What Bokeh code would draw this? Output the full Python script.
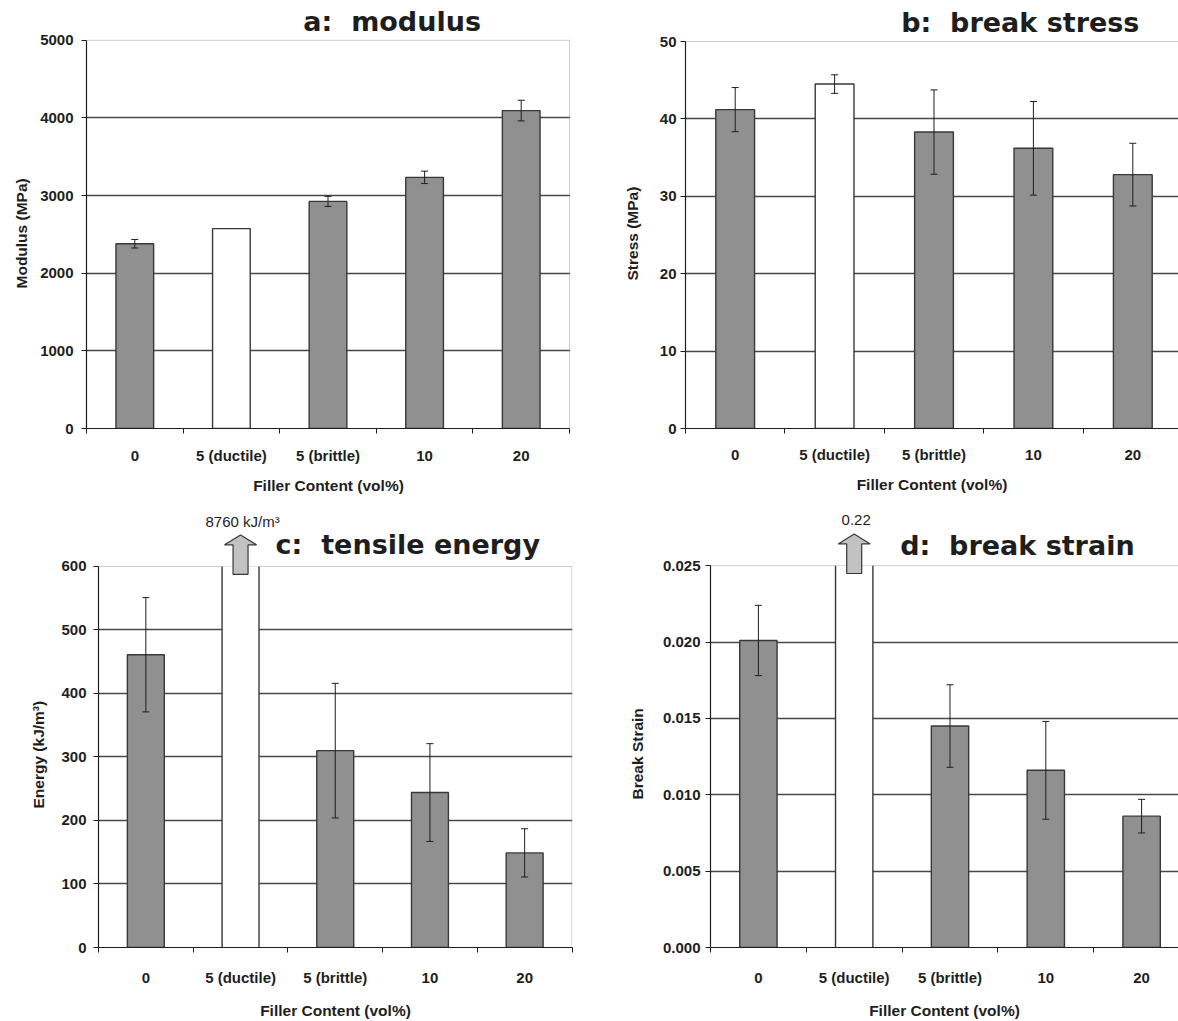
import numpy as np
from bokeh.plotting import figure
from bokeh.layouts import column, row
from bokeh.models import (Range1d, FixedTicker, NumeralTickFormatter, Whisker, TeeHead,
                          ColumnDataSource, Title)
from bokeh.core.properties import value
from bokeh.embed import file_html
from bokeh.resources import INLINE

# ---- data -------------------------------------------------------------
categories = ["0", "5 (ductile)", "5 (brittle)", "10", "20"]
open_category = "5 (ductile)"          # drawn as an unfilled bar

modulus = [2380, 2575, 2925, 3235, 4095]        # MPa
modulus_err = [55, 0, 65, 80, 133]

stress = [41.2, 44.5, 38.3, 36.2, 32.8]          # MPa
stress_err = [2.85, 1.2, 5.45, 6.05, 4.05]

energy = [461, 8760, 310, 244, 149]              # kJ/m^3
energy_err = [90, 0, 106, 77, 38]

strain = [0.0201, 0.22, 0.0145, 0.0116, 0.0086]
strain_err = [0.0023, 0, 0.0027, 0.0032, 0.0011]

x_title = "Filler Content (vol%)"

# ---- styling ----------------------------------------------------------
INK = "#1e1e1e"
GRID = "#474747"
BORDER = "#9a9a9a"
BAR_FILL = "#909090"
BAR_LINE = "#383838"
ARROW_FILL = "#c2c2c2"
SANS = "Liberation Sans"
TITLE_FONT = "DejaVu Sans"
NBSP = "\u00a0"


def panel(vals, errs, ymax, step, ylabel, title, W, H, left, right, plot_top, bottom,
          pitch, title_at, fmt=None, off_unit="", ytick_standoff=8, ylab_standoff=12,
          ylab_offset=140, xtick_standoff=16, xlab_standoff=13):
    n = len(categories)
    vals = np.asarray(vals, dtype=float)
    errs = np.asarray(errs, dtype=float)
    plot_h = bottom - plot_top
    x_end = (right - left) / pitch
    y_end = ymax * bottom / plot_h        # frame reaches up to the top of the figure
    dx = 1.0 / pitch                      # data units per pixel
    dy = ymax / plot_h

    p = figure(width=W, height=H, x_range=Range1d(0, x_end), y_range=Range1d(0, y_end),
               min_border_left=left, min_border_right=W - right, min_border_top=0,
               min_border_bottom=H - bottom, toolbar_location=None, output_backend="svg",
               outline_line_color=None, background_fill_color="white",
               border_fill_color="white")

    centers = np.arange(n) + 0.5
    edges = np.arange(n + 1)

    # y axis
    yt = [round(v, 6) for v in np.arange(0, ymax + step / 2, step)]
    ya = p.yaxis[0]
    ya.ticker = FixedTicker(ticks=yt)
    ya.bounds = (0, ymax)
    ya.major_tick_in = 0
    ya.major_tick_out = 5
    ya.major_label_standoff = ytick_standoff
    if fmt:
        ya.formatter = NumeralTickFormatter(format=fmt)

    # y-axis caption, placed along the scaled part of the axis
    p.add_layout(Title(text=ylabel, align="left", offset=ylab_offset,
                       standoff=ylab_standoff, text_font=SANS, text_font_style="bold",
                       text_font_size="15.5px", text_color=INK), "left")

    # x axis: labels under each category, tick marks between them
    xa = p.xaxis[0]
    xa.ticker = FixedTicker(ticks=list(centers), minor_ticks=list(edges))
    xa.major_label_overrides = {float(c): cat for c, cat in zip(centers, categories)}
    xa.major_tick_in = 0
    xa.major_tick_out = 0
    xa.minor_tick_in = 0
    xa.minor_tick_out = 5
    xa.bounds = (0, n)
    xa.axis_label = x_title
    xa.major_label_standoff = xtick_standoff
    xa.axis_label_standoff = xlab_standoff

    for ax in (xa, ya):
        ax.axis_line_color = INK
        ax.axis_line_width = 1.2
        ax.major_tick_line_color = INK if ax is ya else None
        ax.minor_tick_line_color = INK if ax is xa else None
        ax.major_label_text_font = SANS
        ax.major_label_text_font_style = "bold"
        ax.major_label_text_font_size = "15px"
        ax.major_label_text_color = INK
        ax.axis_label_text_font = SANS
        ax.axis_label_text_font_style = "bold"
        ax.axis_label_text_font_size = "15.5px"
        ax.axis_label_text_color = INK

    p.xgrid.visible = False
    p.ygrid.ticker = FixedTicker(ticks=yt[1:-1])
    p.ygrid.grid_line_color = GRID
    p.ygrid.grid_line_width = 1.4

    # dotted plot-area border (top and right)
    p.segment(x0=[0, n], y0=[ymax, 0], x1=[n, n], y1=[ymax, ymax],
              line_color=BORDER, line_width=1, line_dash="1 1")

    # bars
    is_open = np.array([c == open_category for c in categories])
    off = vals > ymax
    fills = np.where(is_open, "white", BAR_FILL)
    inside = ~off
    p.vbar(x=centers[inside], top=vals[inside], width=0.39, bottom=0,
           fill_color=list(fills[inside]), line_color=BAR_LINE, line_width=1.4)

    if off.any():
        # bars running past the top of the scale: fill up to the edge, sides only
        xs = centers[off]
        p.vbar(x=xs, top=np.minimum(vals[off], ymax), width=0.39, bottom=0,
               fill_color=list(fills[off]), line_color=None)
        p.segment(x0=np.concatenate([xs - 0.195, xs + 0.195]), y0=0,
                  x1=np.concatenate([xs - 0.195, xs + 0.195]), y1=ymax,
                  line_color=BAR_LINE, line_width=1.4)
        for cx, v in zip(xs, vals[off]):
            hw, sw = 16 * dx, 7.5 * dx
            base = ymax + 22 * dy
            tip = ymax + 32 * dy
            low = ymax - 8 * dy
            p.patch(x=[cx - sw, cx - sw, cx - hw, cx, cx + hw, cx + sw, cx + sw],
                    y=[low, base, base, tip, base, base, low],
                    fill_color=ARROW_FILL, line_color=BAR_LINE, line_width=1.2)
            p.text(x=[cx + 2 * dx], y=[ymax + 46 * dy], text=[f"{v:g}{off_unit}"],
                   text_font=value(SANS), text_font_size="15px", text_color=INK,
                   text_align="center", text_baseline="alphabetic")

    # error bars
    has = errs > 0
    wsrc = ColumnDataSource(dict(x=centers[has], lo=(vals - errs)[has], hi=(vals + errs)[has]))
    w = Whisker(source=wsrc, base="x", lower="lo", upper="hi", dimension="height",
                line_color=INK, line_width=1, level="overlay",
                upper_head=TeeHead(size=7, line_color=INK, line_width=1),
                lower_head=TeeHead(size=7, line_color=INK, line_width=1))
    p.add_layout(w)

    # panel heading
    tx, ty_px = title_at
    p.text(x=[tx], y=[ymax + ty_px * dy], text=[title.replace("  ", " " + NBSP)],
           text_font=value(TITLE_FONT), text_font_style="bold", text_font_size="27px",
           text_color=INK, text_align="left", text_baseline="alphabetic")
    return p


pa = panel(modulus, modulus_err, 5000, 1000, "Modulus (MPa)", "a:  modulus",
           W=600, H=500, left=86, right=570, plot_top=40, bottom=430, pitch=96.6,
           title_at=(2.245, 19), ylab_standoff=16, ylab_offset=140,
           xtick_standoff=13, xlab_standoff=10)
pb = panel(stress, stress_err, 50, 10, "Stress (MPa)", "b:  break stress",
           W=578, H=500, left=85, right=578, plot_top=41, bottom=428, pitch=99.4,
           title_at=(2.17, 19), ytick_standoff=4, ylab_standoff=31, ylab_offset=148,
           xtick_standoff=12, xlab_standoff=10)
pc = panel(energy, energy_err, 600, 100, "Energy (kJ/m³)", "c:  tensile energy",
           W=600, H=521, left=98, right=572, plot_top=67, bottom=454, pitch=94.7,
           title_at=(1.87, 22), off_unit=" kJ/m³", ytick_standoff=7, ylab_standoff=24,
           ylab_offset=139)
pd = panel(strain, strain_err, 0.025, 0.005, "Break Strain", "d:  break strain",
           W=578, H=521, left=110, right=578, plot_top=66, bottom=453, pitch=95.8,
           title_at=(1.98, 20), fmt="0.000", ytick_standoff=5, ylab_standoff=28,
           ylab_offset=148)

layout = column(row(pa, pb), row(pc, pd))
open("out.html", "w").write(file_html(layout, INLINE))
